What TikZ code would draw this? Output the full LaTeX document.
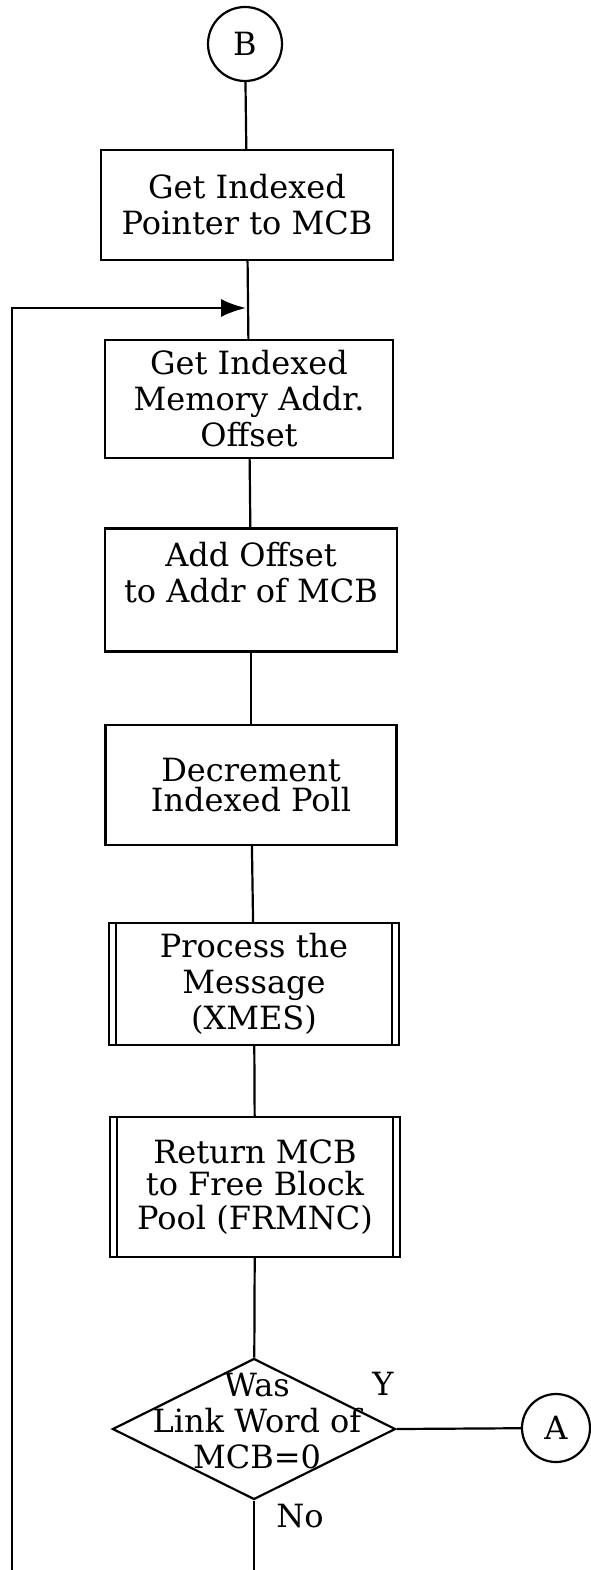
\documentclass[tikz,border=0pt]{standalone}
\usepackage{fontspec}
\setmainfont{DejaVu Serif}
\usetikzlibrary{shapes.geometric,arrows.meta}
\tikzset{
  box/.style={draw, line width=2.2pt, align=center, inner sep=0pt},
  conn/.style={circle, draw, line width=2.2pt, minimum size=74pt, inner sep=0pt},
  flow/.style={line width=2.2pt},
}
\begin{document}
\begin{tikzpicture}[x=1pt,y=-1pt,font=\fontsize{32}{36}\selectfont]
\useasboundingbox (0,0) rectangle (591,1570);
% main column
\node[conn] (B) at (245,44) {B};
\node[box, minimum width=292pt, minimum height=110pt] (ptr) at (247,205) {Get Indexed\\Pointer to MCB};
\node[box, minimum width=288pt, minimum height=118pt] (off) at (249,399) {Get Indexed\\Memory Addr.\\Offset};
\node[box, minimum width=292pt, minimum height=123pt] (add) at (251,590) {Add Offset\\to Addr of MCB\\\mbox{}};
\node[box, minimum width=291pt, minimum height=120pt] (poll) at (251,785) {Decrement\\[-6pt]Indexed Poll};
\node[box, minimum width=290pt, minimum height=122pt] (xmes) at (254,984) {Process the\\Message\\(XMES)};
\node[box, minimum width=290pt, minimum height=140pt] (frmnc) at (255,1187) {Return MCB\\[-4pt]to Free Block\\[-2pt]Pool (FRMNC)};
\foreach \n in {xmes,frmnc} % inner side lines
{
\draw[flow] ([xshift=8pt]\n.north west) -- ([xshift=8pt]\n.south west);
\draw[flow] ([xshift=-8pt]\n.north east) -- ([xshift=-8pt]\n.south east);
}
% decision
\node[diamond, draw, line width=2.2pt, minimum width=283pt, minimum height=141pt, inner sep=0pt] (link) at (254,1429) {};
\node[align=center, inner sep=0pt] (linktxt) at (257,1421) {Was\\Link Word of\\MCB=0};
\node (yes) at (383,1384) {Y};
\node (no) at (300,1516) {No};
\node[conn, minimum size=68pt] (A) at (556,1428) {A};
\coordinate (join) at (246,308);
\coordinate (loopbot) at (12,1570);
\coordinate (nobot) at (254,1570);
% connectors
\draw[flow] (B) -- (ptr);
\draw[flow] (ptr) -- (off);
\draw[flow] (off) -- (add);
\draw[flow] (add) -- (poll);
\draw[flow] (poll) -- (xmes);
\draw[flow] (xmes) -- (frmnc);
\draw[flow] (frmnc) -- (link);
\draw[flow] (link.east) -- (A);
\draw[flow] (link.south) -- (nobot);
\draw[flow,-{Latex[length=25pt,width=18pt]}] (loopbot) |- (join);
\end{tikzpicture}
\end{document}
